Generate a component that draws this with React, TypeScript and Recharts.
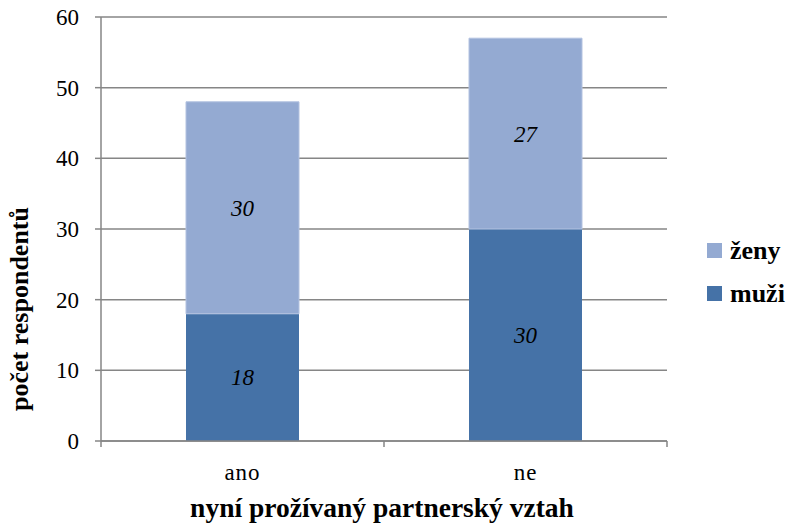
import { Bar, BarChart, CartesianGrid, Label, LabelList, XAxis, YAxis } from "recharts";

const categories = ["ano", "ne"];
const muzi = [18, 30];
const zeny = [30, 27];
const yTicks = [0, 10, 20, 30, 40, 50, 60];

const data = categories.map((name, i) => ({ name, muzi: muzi[i], zeny: zeny[i] }));

const W = 790;
const H = 526;
const MARGIN = { top: 17, right: 123, bottom: 0, left: 0 };
const Y_WIDTH = 101;
const X_HEIGHT = 85;
const PLOT_BOTTOM = H - X_HEIGHT;
const BAND = (W - MARGIN.right - Y_WIDTH) / categories.length;

const DARK = "#4572A7";
const LIGHT = "#94AAD2";
const AXIS = "#868686";
const FONT = "'Liberation Serif', serif";

const legendItems = [
  { name: "ženy", color: LIGHT },
  { name: "muži", color: DARK },
];

const tickStyle = { fontFamily: FONT, fontSize: 23 };

function CategoryTick(props: any) {
  const { x, payload, index } = props;
  return (
    <g>
      {index === 0 && (
        <line x1={x - BAND / 2} x2={x - BAND / 2} y1={PLOT_BOTTOM} y2={PLOT_BOTTOM + 6} stroke={AXIS} strokeWidth={1.5} />
      )}
      <line x1={x + BAND / 2} x2={x + BAND / 2} y1={PLOT_BOTTOM} y2={PLOT_BOTTOM + 6} stroke={AXIS} strokeWidth={1.5} />
      <text x={x} y={PLOT_BOTTOM + 39} textAnchor="middle" fill="#000" style={{ ...tickStyle, letterSpacing: 1 }}>
        {payload.value}
      </text>
    </g>
  );
}

function ValueTick(props: any) {
  const { x, y, payload } = props;
  return (
    <text x={x} y={y} dy={8} textAnchor="end" fill="#000" style={tickStyle}>
      {payload.value}
    </text>
  );
}

function SegmentLabel(props: any) {
  const { x, y, width, height, value } = props;
  return (
    <text
      x={x + width / 2}
      y={y + height / 2}
      dy={8}
      textAnchor="middle"
      fill="#000"
      style={{ fontFamily: FONT, fontSize: 23, fontStyle: "italic" }}
    >
      {value}
    </text>
  );
}

function LegendBox() {
  return (
    <div style={{ position: "absolute", left: 707, top: 229, fontFamily: FONT }}>
      {legendItems.map((it) => (
        <div key={it.name} style={{ display: "flex", alignItems: "center", height: 43 }}>
          <div style={{ width: 15, height: 15, background: it.color, marginRight: 8 }} />
          <span style={{ fontSize: 26, fontWeight: "bold", color: "#000", fontFamily: FONT }}>{it.name}</span>
        </div>
      ))}
    </div>
  );
}

export default function App() {
  return (
    <div style={{ position: "absolute", left: 0, top: 0, width: W, height: H, background: "#fff" }}>
      <BarChart width={W} height={H} data={data} margin={MARGIN} barSize={113}>
        <CartesianGrid vertical={false} stroke={AXIS} strokeWidth={1.5} />
        <XAxis
          dataKey="name"
          height={X_HEIGHT}
          axisLine={{ stroke: AXIS, strokeWidth: 1.5 }}
          tickLine={false}
          tick={<CategoryTick />}
          interval={0}
        >
          <Label
            content={() => (
              <text
                x={382}
                y={517}
                textAnchor="middle"
                fill="#000"
                style={{ fontFamily: FONT, fontSize: 27.5, fontWeight: "bold" }}
              >
                nyní prožívaný partnerský vztah
              </text>
            )}
          />
        </XAxis>
        <YAxis
          width={Y_WIDTH}
          domain={[0, 60]}
          ticks={yTicks}
          interval={0}
          axisLine={{ stroke: AXIS, strokeWidth: 1.5 }}
          tickLine={{ stroke: AXIS, strokeWidth: 1.5 }}
          tickSize={6}
          tickMargin={16}
          tick={<ValueTick />}
        >
          <Label
            content={() => (
              <text
                transform="translate(28,309) rotate(-90)"
                textAnchor="middle"
                fill="#000"
                style={{ fontFamily: FONT, fontSize: 26, fontWeight: "bold" }}
              >
                počet respondentů
              </text>
            )}
          />
        </YAxis>
        <Bar dataKey="muzi" name="muži" stackId="a" fill={DARK} isAnimationActive={false}>
          <LabelList dataKey="muzi" content={<SegmentLabel />} />
        </Bar>
        <Bar dataKey="zeny" name="ženy" stackId="a" fill={LIGHT} stroke="#b3c2e0" isAnimationActive={false}>
          <LabelList dataKey="zeny" content={<SegmentLabel />} />
        </Bar>
      </BarChart>
      <LegendBox />
    </div>
  );
}
